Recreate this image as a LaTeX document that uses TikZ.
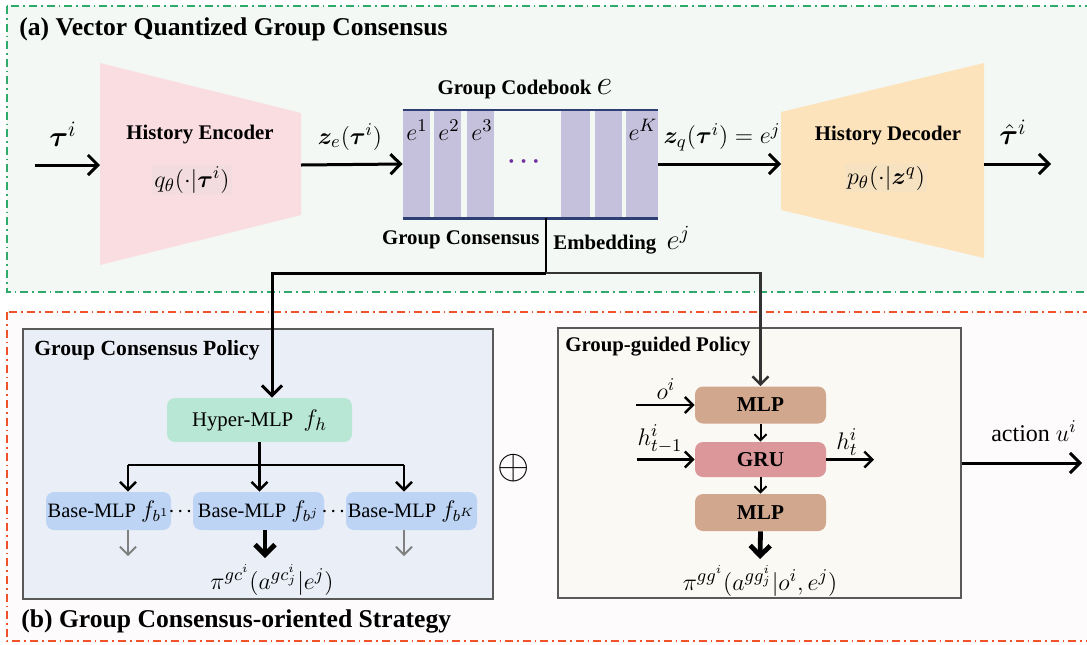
\documentclass[tikz,border=0pt]{standalone}
\usepackage{amsmath,amssymb,bm}
\usepackage{fontspec}
\setmainfont{Liberation Serif}
\usetikzlibrary{arrows.meta,positioning}
\definecolor{grnc}{HTML}{2EAA6A}
\definecolor{grnbg}{HTML}{F3F8F4}
\definecolor{redc}{HTML}{F0522A}
\definecolor{redbg}{HTML}{FDFBFC}
\definecolor{encc}{HTML}{FADDE1}
\definecolor{qbgc}{HTML}{F2DCDF}
\definecolor{decc}{HTML}{FDE3BC}
\definecolor{pbgc}{HTML}{F6E2C0}
\definecolor{cbc}{HTML}{C5C1DC}
\definecolor{cbline}{HTML}{2E3F73}
\definecolor{dotc}{HTML}{7030A0}
\definecolor{gcpbg}{HTML}{EAEEF7}
\definecolor{ggpbg}{HTML}{FBF9F3}
\definecolor{framec}{HTML}{595959}
\definecolor{hypc}{HTML}{B8E7D5}
\definecolor{basec}{HTML}{BDD4F4}
\definecolor{mlpc}{HTML}{D1A78D}
\definecolor{gruc}{HTML}{DC979B}
\tikzset{
  ar/.style={-{Straight Barb[length=5pt,width=10pt]},line width=1.5pt},
  thinar/.style={-{Straight Barb[length=4pt,width=8pt]},line width=1.2pt},
  smar/.style={-{Straight Barb[length=3pt,width=6pt]},line width=1pt},
  grayar/.style={-{Straight Barb[length=4pt,width=8pt]},line width=0.9pt,gray},
  bigar/.style={-{Straight Barb[length=5pt,width=10pt]},line width=2.4pt},
  wire/.style={line width=1.3pt},
  frame/.style={line width=0.8pt,dash pattern=on 4pt off 2pt on 0.8pt off 2pt},
  ttl/.style={font=\fontsize{12.8}{14}\selectfont\bfseries,anchor=west,inner sep=0},
  sub/.style={font=\fontsize{10.8}{12}\selectfont\bfseries,anchor=west,inner sep=0},
  lbl/.style={font=\fontsize{10.4}{12}\selectfont\bfseries,inner sep=1pt},
  mth/.style={font=\fontsize{13}{15}\selectfont,inner sep=0},
  smth/.style={font=\fontsize{12.5}{14}\selectfont,inner sep=0},
  cbe/.style={font=\fontsize{13}{15}\selectfont,inner sep=0},
  polbox/.style={draw=framec,line width=0.6pt,inner sep=0},
  hypbox/.style={fill=hypc,rounded corners=4pt,font=\fontsize{10.4}{12}\selectfont,minimum width=92.5pt,minimum height=22pt,inner sep=1pt},
  basebox/.style={fill=basec,rounded corners=4pt,font=\fontsize{10.2}{12}\selectfont,minimum height=19pt,inner sep=0pt},
  blk/.style={rounded corners=4pt,font=\fontsize{10.6}{12}\selectfont\bfseries,minimum width=65.5pt,minimum height=18.5pt,inner sep=1pt}
}
\begin{document}
\begin{tikzpicture}[x=0.5pt,y=-0.5pt]
\useasboundingbox (0,0) rectangle (1087,644);
\fill[white] (0,0) rectangle (1087,644);
% two regions
\draw[frame,grnc,fill=grnbg] (7,6) rectangle (1100,292);
\draw[frame,redc,fill=redbg] (7,312) rectangle (1100,641);
\node[ttl] (vqtitle) at (19,29) {(a) Vector Quantized Group Consensus};
\node[ttl] (gstitle) at (21,621) {(b) Group Consensus-oriented Strategy};

% encoder
\fill[encc] (100,63) -- (301,113) -- (301,215) -- (100,265) -- cycle;
\coordinate (enc-l) at (100,165);
\coordinate (enc-r) at (301,165);
\node[lbl] (enclbl) at (200,135) {History Encoder};
\node[mth,fill=qbgc,inner sep=1pt] (encq) at (192,180) {$q_\theta(\cdot|\boldsymbol{\tau}^i)$};
\coordinate (tauin) at (35,165);
\draw[ar] (tauin) -- (enc-l);
\node[font=\fontsize{15}{17}\selectfont,inner sep=0] (taulbl) at (63,134) {$\boldsymbol{\tau}^i$};

% codebook
\node[minimum width=127.5pt,minimum height=54pt,inner sep=0] (cb) at (530.5,164) {};
\foreach \xa/\xb in {403/430,434/461,467/494,561/590,595/622,626/658}
  \fill[cbc] (\xa,110) rectangle (\xb,218);
\draw[cbline,line width=1.1pt] (cb.north west) -- (cb.north east);
\draw[cbline,line width=1.1pt] (cb.south west) -- (cb.south east);
\node[text=dotc,font=\fontsize{13}{15}\selectfont] (cbdots) at (526,162) {$\boldsymbol{\cdots}$};
\node[cbe] (e1) at (417,130) {$e^1$};
\node[cbe] (e2) at (449,130) {$e^2$};
\node[cbe] (e3) at (482,130) {$e^3$};
\node[cbe] (eK) at (643,130) {$e^K$};
\node[lbl] (cbtitle) at (525,89) {Group Codebook {\fontsize{17}{18}\selectfont$e$}};
\node[lbl,anchor=east] (cbsub) at (542,240) {Group Consensus};
\node[lbl,anchor=west] (cbemb) at (551,240) {Embedding \ {\fontsize{14}{16}\selectfont\mdseries$e^j$}};
\draw[ar] (enc-r) -- (cb.west);
\node[mth] (zelbl) at (350,137) {$\boldsymbol{z}_e(\boldsymbol{\tau}^i)$};

% decoder
\fill[decc] (781,112) -- (984,63) -- (984,258) -- (781,210) -- cycle;
\coordinate (dec-l) at (781,164);
\coordinate (dec-r) at (984,164);
\node[lbl] (declbl) at (888,136) {History Decoder};
\node[mth,fill=pbgc,inner sep=1pt] (decp) at (886,178) {$p_\theta(\cdot|\boldsymbol{z}^q)$};
\draw[ar] (cb.east) -- (dec-l);
\node[mth] (zqlbl) at (722,137) {$\boldsymbol{z}_q(\boldsymbol{\tau}^i)=e^j$};
\coordinate (tauout) at (1051,164);
\draw[ar] (dec-r) -- (tauout);
\node[font=\fontsize{15}{17}\selectfont,inner sep=0] (tauhat) at (1013,132) {$\hat{\boldsymbol{\tau}}^i$};

% group consensus policy
\node[polbox,fill=gcpbg,minimum width=235pt,minimum height=135pt] (gcp) at (258,464) {};
\node[sub] (gcptitle) at (34,350) {Group Consensus Policy};
\node[hypbox] (hyp) at (259.5,420) {Hyper-MLP\ \ {\fontsize{13}{15}\selectfont$f_h$}};
\node[basebox,minimum width=62.5pt] (b1) at (108.5,511) {Base-MLP {\fontsize{11.5}{13}\selectfont$f_{b^1}$}};
\node[basebox,minimum width=65.5pt] (b2) at (258.5,511) {Base-MLP {\fontsize{11.5}{13}\selectfont$f_{b^j}$}};
\node[basebox,minimum width=65.5pt] (b3) at (411.5,511) {Base-MLP {\fontsize{11.5}{13}\selectfont$f_{b^K}$}};
\node[inner sep=0,font=\fontsize{8}{9}\selectfont] (dt1) at (182,512) {$\boldsymbol{\cdots}$};
\node[inner sep=0,font=\fontsize{8}{9}\selectfont] (dt2) at (335,512) {$\boldsymbol{\cdots}$};
\coordinate (fork) at (259.5,465);
\coordinate (fk1) at (128,465);
\coordinate (fk3) at (404,465);
\draw[wire] (hyp.south) -- (fork);
\draw[wire] (fk1) -- (fk3);
\draw[thinar] (fk1) -- (fk1 |- b1.north);
\draw[thinar] (fork) -- (fork |- b2.north);
\draw[thinar] (fk3) -- (fk3 |- b3.north);
\coordinate (o1) at (128,556);
\coordinate (o2) at (265,558);
\coordinate (o3) at (404,556);
\draw[grayar] (o1 |- b1.south) -- (o1);
\draw[bigar] (o2 |- b2.south) -- (o2);
\draw[grayar] (o3 |- b3.south) -- (o3);
\node[smth] (pigc) at (272,580) {$\pi^{gc^i}(a^{gc^i_j}|e^j)$};

\node[font=\fontsize{21}{22}\selectfont,inner sep=0] (oplus) at (514,468) {$\oplus$};

% group-guided policy
\node[polbox,fill=ggpbg,minimum width=201.5pt,minimum height=135pt] (ggp) at (759.5,463) {};
\node[sub,font=\fontsize{10.4}{12}\selectfont\bfseries] (ggptitle) at (565,347) {Group-guided Policy};
\node[blk,fill=mlpc] (mlpa) at (760.5,405) {MLP};
\node[blk,fill=gruc,minimum height=17.5pt] (gru) at (760.5,459.5) {GRU};
\node[blk,fill=mlpc] (mlpb) at (760.5,512.5) {MLP};
\draw[smar] (mlpa) -- (gru);
\draw[smar] (gru) -- (mlpb);
\coordinate (oin) at (636,405);
\coordinate (hin) at (637,459.5);
\coordinate (hout) at (874,459.5);
\draw[thinar] (oin) -- (mlpa.west);
\draw[thinar] (hin) -- (gru.west);
\draw[thinar] (gru.east) -- (hout);
\node[smth] (olbl) at (666,389) {$o^i$};
\node[smth] (hinlbl) at (660,439) {$h^i_{t-1}$};
\node[smth] (houtlbl) at (847,442) {$h^i_t$};
\coordinate (pgg) at (760,559);
\draw[bigar] (mlpb.south) -- (pgg);
\node[smth] (pigg) at (760,581) {$\pi^{gg^i}(a^{gg^i_j}|o^i,e^j)$};
\coordinate (act) at (1082,463);
\draw[ar] (ggp.east) -- (act);
\node[font=\fontsize{12}{14}\selectfont,inner sep=1pt] (actlbl) at (1034,431) {action {\fontsize{13}{15}\selectfont$u^i$}};

% consensus embedding to both policies
\coordinate (split) at (546,273);
\coordinate (toleft) at (272,273);
\coordinate (toright) at (760.5,273);
\draw[wire] (cb.south -| split) -- (split);
\draw[ar] (split) -- (toleft) -- (toleft |- hyp.north);
\draw[thinar,black!80] (split) -- (toright) -- (mlpa.north);
\end{tikzpicture}
\end{document}
